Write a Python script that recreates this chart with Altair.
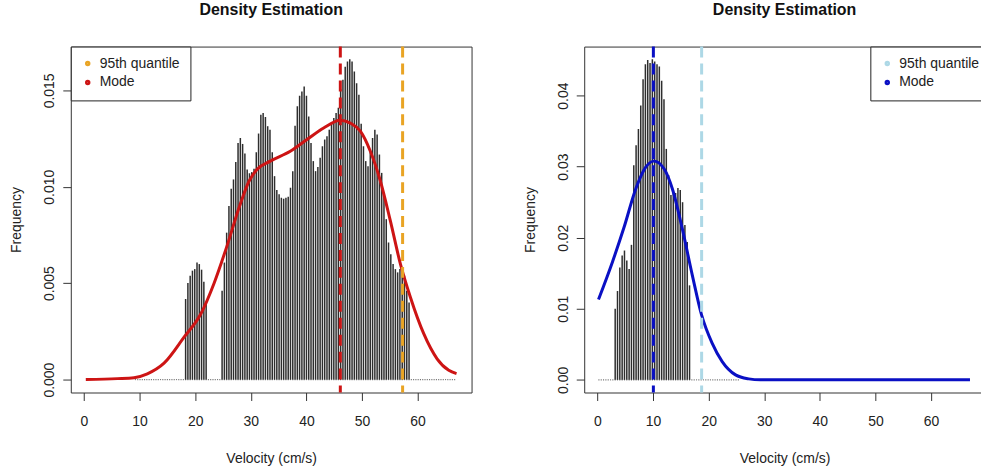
import altair as alt
import pandas as pd

FONT = "Liberation Sans"

# ---------------- Left panel (first sample) ----------------
L_GRID_START = 9.26
L_GRID_STEP = 0.41
L_HEIGHTS = [0.0] * 22 + [
    0.00418, 0.00501, 0.00539, 0.00565, 0.00573, 0.00607, 0.00599, 0.00570, 0.00508, 0.00401,
    0.0, 0.0, 0.0, 0.0, 0.0, 0.0,
    0.00461, 0.00607, 0.00762, 0.00900, 0.00990, 0.01038, 0.01129, 0.01227, 0.01253, 0.01222,
    0.01172, 0.01090, 0.01070, 0.01076, 0.01093, 0.01179, 0.01276, 0.01374, 0.01382, 0.01362,
    0.01314, 0.01296, 0.01179, 0.01055, 0.00983, 0.00961, 0.00943, 0.00938, 0.00943, 0.00948,
    0.00995, 0.01081, 0.01317, 0.01417, 0.01472, 0.01494, 0.01520, 0.01472, 0.01365, 0.01227,
    0.01133, 0.01081, 0.01103, 0.01150, 0.01210, 0.01245, 0.01262, 0.01296, 0.01331, 0.01356,
    0.01382, 0.01410, 0.01506, 0.01555, 0.01623, 0.01650, 0.01661, 0.01649, 0.01598, 0.01537,
    0.01477, 0.01327, 0.01210, 0.01133, 0.01107, 0.01193, 0.01253, 0.01296, 0.01271, 0.01167,
    0.01072, 0.00961, 0.00832, 0.00711, 0.00650, 0.00600, 0.00573, 0.00556, 0.00573, 0.00556,
    0.00539, 0.00461, 0.00400,
] + [0.0] * 20

L_CURVE_X = [0.33, 6.0, 9.0, 11.4, 14.4, 18.0, 21.0, 23.4, 25.8, 27.9, 29.7, 31.1,
             33.5, 37.1, 40.1, 43.1, 46.1, 47.9, 49.7, 51.5, 53.3, 55.1, 56.9, 58.7, 61.1,
             63.5, 65.6, 67.0]
L_CURVE_Y = [0.0, 0.00005, 0.0001, 0.0003, 0.00085, 0.0022, 0.0034, 0.0050, 0.0070,
             0.00892, 0.0103, 0.0109, 0.01133, 0.01184, 0.01245, 0.01305, 0.01345, 0.0133,
             0.01288, 0.01184, 0.0103, 0.00823, 0.006, 0.00427, 0.00238, 0.00108, 0.00048,
             0.00031]
L_MARKERS = ["95th quantile", "Mode"]
L_MARKER_X = [57.3, 46.1]
L_COLORS = ["#E9A424", "#CD1414"]
L_CURVE_COLOR = "#CD1414"

# ---------------- Right panel (second sample) ----------------
R_GRID_START = 0.254
R_GRID_STEP = 0.418
R_HEIGHTS = [0.0] * 7 + [
    0.0100, 0.0125, 0.0158, 0.0175, 0.0182, 0.0168, 0.0156, 0.0190, 0.0302, 0.0330,
    0.0353, 0.0386, 0.0423, 0.0444, 0.0450, 0.0446, 0.0451, 0.0448, 0.0444, 0.0441,
    0.0421, 0.0395, 0.0325, 0.0288, 0.0260, 0.0267, 0.0263, 0.0270, 0.0267, 0.0250,
    0.0218, 0.0194, 0.0133,
] + [0.0] * 21

R_CURVE_X = [0.18, 2.69, 4.79, 6.89, 8.68, 10.17, 11.97, 13.46, 15.25, 17.05, 18.73, 20.64,
             22.43, 24.83, 27.2, 29.3, 40.0, 50.0, 67.0]
R_CURVE_Y = [0.01131, 0.0166, 0.0215, 0.0269, 0.02994, 0.03078, 0.0297, 0.0269, 0.02128,
             0.01474, 0.00912, 0.00514, 0.00257, 0.0007, 0.00014, 0.0, 0.0, 0.0, 0.0]
R_MARKERS = ["95th quantile", "Mode"]
R_MARKER_X = [18.73, 10.05]
R_COLORS = ["#ADD8E6", "#0A10C4"]
R_CURVE_COLOR = "#0A10C4"

X_TICKS = [0, 10, 20, 30, 40, 50, 60]


def grid_frame(start, step, heights):
    return pd.DataFrame({"v": [start + step * i for i in range(len(heights))], "h": heights})


def panel(bars, curve, markers, colors, curve_color, xdom, ydom, yticks, yfmt,
          legend_pos, width, height):
    xs = alt.Scale(domain=xdom, nice=False, zero=False)
    ys = alt.Scale(domain=ydom, nice=False, zero=False)
    xax = alt.Axis(values=X_TICKS, title="Velocity (cm/s)", format="d")
    yax = alt.Axis(values=yticks, format=yfmt, title="Frequency")
    x = alt.X("v:Q", scale=xs, axis=xax)

    dots = alt.Chart(bars).mark_square(size=1.2, color="#666", opacity=0.9).encode(
        x=x, y=alt.Y("zero:Q", scale=ys, axis=yax))
    rules = alt.Chart(bars).mark_rule(color="#2e2e2e", strokeWidth=1.5).encode(
        x=x, y=alt.Y("h:Q", scale=ys, axis=yax), y2="zero:Q")
    line = alt.Chart(curve).mark_line(color=curve_color, strokeWidth=3,
                                      interpolate="monotone").encode(
        x=x, y=alt.Y("h:Q", scale=ys, axis=yax))
    vlines = alt.Chart(markers).mark_rule(strokeWidth=3).encode(
        x=x,
        strokeDash=alt.value([11, 6]),
        color=alt.Color(
            "name:N",
            scale=alt.Scale(domain=list(markers["name"]), range=colors),
            legend=alt.Legend(
                title=None, orient="none", legendX=legend_pos[0], legendY=legend_pos[1],
                padding=10,
                strokeColor="#222", fillColor="white", cornerRadius=0,
                symbolType="circle", symbolSize=6, symbolStrokeWidth=3,
                symbolOffset=0,
                labelFont=FONT, labelFontSize=14, labelColor="#222",
                labelOffset=5, rowPadding=3,
            ),
        ),
    )
    return alt.layer(dots, rules, line, vlines).properties(
        width=width, height=height,
        title=alt.TitleParams("Density Estimation", font=FONT, fontSize=16,
                              fontWeight="bold", anchor="middle", offset=27,
                              color="#111"),
    )


left_bars = grid_frame(L_GRID_START, L_GRID_STEP, L_HEIGHTS)
left_bars["zero"] = 0.0
right_bars = grid_frame(R_GRID_START, R_GRID_STEP, R_HEIGHTS)
right_bars["zero"] = 0.0

left = panel(
    left_bars,
    pd.DataFrame({"v": L_CURVE_X, "h": L_CURVE_Y}),
    pd.DataFrame({"name": L_MARKERS, "v": L_MARKER_X}),
    L_COLORS, L_CURVE_COLOR,
    [-2.37, 69.7], [-0.00067, 0.01727], [0, 0.005, 0.01, 0.015], ".3f",
    (0, 0), 402, 347,
)
right = panel(
    right_bars,
    pd.DataFrame({"v": R_CURVE_X, "h": R_CURVE_Y}),
    pd.DataFrame({"name": R_MARKERS, "v": R_MARKER_X}),
    R_COLORS, R_CURVE_COLOR,
    [-2.39, 69.7], [-0.00178, 0.0469], [0, 0.01, 0.02, 0.03, 0.04], ".2f",
    (287, 0), 402, 347,
)

chart = alt.hconcat(left, right, spacing=50).resolve_scale(
    color="independent", x="independent", y="independent"
).properties(
    padding={"left": 9, "top": 1, "right": -10, "bottom": 0},
    background="white",
).configure_axis(
    labelFont=FONT, titleFont=FONT, labelFontSize=14, titleFontSize=14,
    labelColor="#222", titleColor="#222", tickColor="#333", tickSize=8,
    grid=False, domain=False, titleFontWeight="normal",
).configure_axisX(
    labelPadding=14, titlePadding=23,
).configure_axisY(
    labelAngle=-90, labelAlign="center", labelBaseline="bottom",
    labelPadding=6, titlePadding=19,
).configure_view(
    stroke="#333", strokeWidth=1,
)

chart.save("out.html", embed_options={"renderer": "svg", "actions": False})
